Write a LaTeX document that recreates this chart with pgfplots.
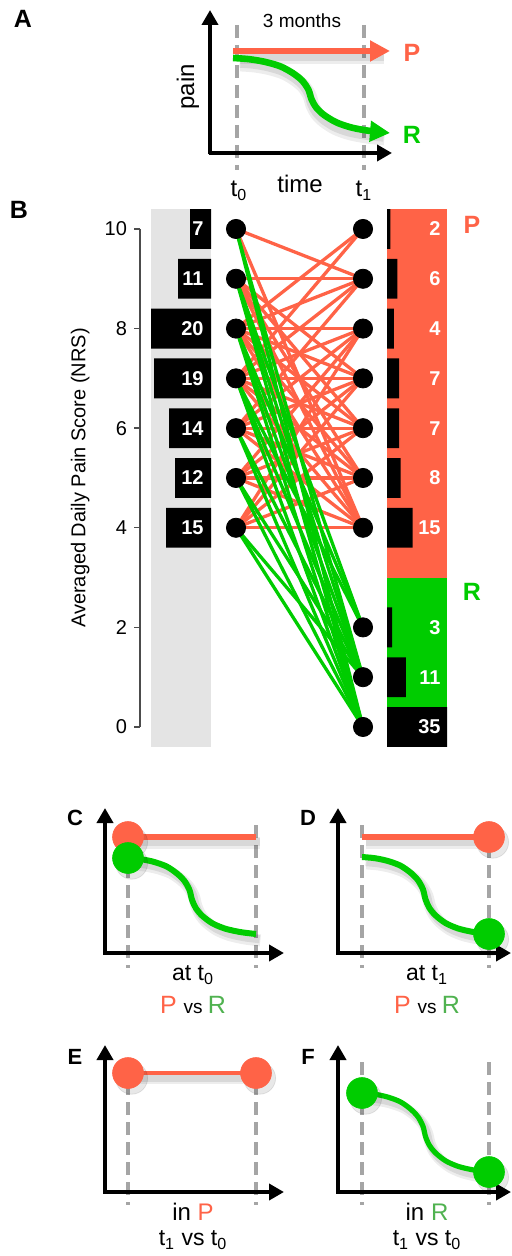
\documentclass[border=0pt]{standalone}
\usepackage{fontspec}
\setmainfont{Liberation Sans}
\usepackage{pgfplots}
\pgfplotsset{compat=1.18}
\usepackage{pgfplotstable}
\usetikzlibrary{arrows.meta}

\definecolor{tom}{RGB}{255,99,71}
\definecolor{grn}{RGB}{0,204,0}
\definecolor{grntxt}{RGB}{80,178,80}
\definecolor{dashg}{RGB}{165,165,165}
\definecolor{band}{RGB}{228,228,228}
\newcommand\fs[1]{\fontsize{#1}{#1}\selectfont}

% normalised shape of the decreasing (R) pain curve in the schematics
\pgfplotstableread{
u v
0 0
0.1 0.015
0.2 0.05
0.3 0.11
0.38 0.2
0.44 0.3
0.48 0.42
0.5 0.55
0.53 0.66
0.58 0.76
0.66 0.86
0.76 0.93
0.88 0.975
1 1
}\curve

% patients per pain score at t0
\pgfplotstableread{
y n
10 7
9 11
8 20
7 19
6 14
5 12
4 15
}\tzero

% patients per pain score at t1
\pgfplotstableread{
y n
10 2
9 6
8 4
7 7
6 7
5 8
4 15
2 3
1 11
0 35
}\tone

\pgfplotsset{
  ov/.style={at={(0pt,0pt)},anchor=south west,scale only axis,width=255.5pt,height=628pt,
    xmin=0,xmax=511,ymin=0,ymax=1256,y dir=reverse,hide axis,clip=false},
  dsh/.style={dashg,line width=2pt,dash pattern=on 6.5pt off 3.5pt},
  ax/.style={black,line width=2.4pt,-{Triangle[length=7.5pt,width=8pt]}},
  shd/.style={black,opacity=0.09,xshift=1.8pt,yshift=-2.6pt},
  shdb/.style={black,opacity=0.07,xshift=2.2pt,yshift=-3.2pt},
}

\begin{document}
\begin{tikzpicture}
\useasboundingbox (0,0) rectangle (255.5pt,628pt);

\begin{axis}[ov]
% ---------------- panel A
\addplot[dsh] coordinates {(237,25) (237,170)};
\addplot[dsh] coordinates {(364,25) (364,170)};
\addplot[shdb,line width=7pt] coordinates {(236,51) (380,51)};
\addplot[shd,line width=4.5pt] coordinates {(236,51) (380,51)};
\addplot[shdb,line width=7pt,smooth] table[x expr=236+144*\thisrow{u},y expr=58+74*\thisrow{v}]{\curve};
\addplot[shd,line width=4.5pt,smooth] table[x expr=236+144*\thisrow{u},y expr=58+74*\thisrow{v}]{\curve};
\addplot[tom,line width=3.3pt,-{Triangle[length=10pt,width=10pt]}] coordinates {(233,51) (390,51)};
\addplot[grn,line width=3.3pt,smooth,-{Triangle[length=10pt,width=10pt]}] table[x expr=233+157*\thisrow{u},y expr=58+75*\thisrow{v}]{\curve};
\addplot[ax] coordinates {(210,154.5) (210,10)};
\addplot[ax] coordinates {(208.8,153) (392,153)};
\node[font=\bfseries\fs{12.5}] at (axis cs:23,19) {A};
\node[font=\fs{9.5}] at (axis cs:302,21) {3 months};
\node[font=\fs{12},rotate=90] at (axis cs:188,87) {pain};
\node[font=\fs{12}] at (axis cs:300,184) {time};
\node[font=\bfseries\fs{12.5},text=tom] at (axis cs:412,53) {P};
\node[font=\bfseries\fs{12.5},text=grn] at (axis cs:412,135) {R};
\node[font=\fs{12}] at (axis cs:239,191) {t\textsubscript{0}};
\node[font=\fs{12}] at (axis cs:364,191) {t\textsubscript{1}};
\node[font=\bfseries\fs{12.5}] at (axis cs:19,210) {B};
\node[font=\bfseries\fs{12.5},text=tom] at (axis cs:472,225) {P};
\node[font=\bfseries\fs{12.5},text=grn] at (axis cs:472,592) {R};

% ---------------- panel C
\addplot[dsh] coordinates {(128,825) (128,968)};
\addplot[dsh] coordinates {(256,825) (256,968)};
\addplot[shdb,line width=6pt] coordinates {(128,837) (256,837)};
\addplot[shd,line width=4pt] coordinates {(128,837) (256,837)};
\addplot[shdb,line width=6pt,smooth] table[x expr=128+128*\thisrow{u},y expr=858+76*\thisrow{v}]{\curve};
\addplot[shd,line width=4pt,smooth] table[x expr=128+128*\thisrow{u},y expr=858+76*\thisrow{v}]{\curve};
\addplot[shd,only marks,mark=*,mark size=8pt] coordinates {(128,837) (128,858)};
\addplot[tom,line width=3pt] coordinates {(128,837) (256,837)};
\addplot[grn,line width=3pt,smooth] table[x expr=128+128*\thisrow{u},y expr=858+76*\thisrow{v}]{\curve};
\addplot[only marks,mark=*,mark size=7.7pt,tom] coordinates {(128,837)};
\addplot[only marks,mark=*,mark size=7.7pt,grn] coordinates {(128,858)};
\addplot[ax] coordinates {(105,954.5) (105,808)};
\addplot[ax] coordinates {(103.8,953) (284,953)};
\node[font=\bfseries\fs{11}] at (axis cs:75,818) {C};
\node[font=\fs{11.5}] at (axis cs:193,975) {at t\textsubscript{0}};
\node at (axis cs:193,1005) {\fs{12.5}\textcolor{tom}{P} \fs{9.5}vs \fs{12.5}\textcolor{grntxt}{R}};

% ---------------- panel D
\addplot[dsh] coordinates {(362,825) (362,968)};
\addplot[dsh] coordinates {(489,825) (489,968)};
\addplot[shdb,line width=6pt] coordinates {(362,837) (489,837)};
\addplot[shd,line width=4pt] coordinates {(362,837) (489,837)};
\addplot[shdb,line width=6pt,smooth] table[x expr=362+127*\thisrow{u},y expr=857+77*\thisrow{v}]{\curve};
\addplot[shd,line width=4pt,smooth] table[x expr=362+127*\thisrow{u},y expr=857+77*\thisrow{v}]{\curve};
\addplot[shd,only marks,mark=*,mark size=8pt] coordinates {(489,837) (489,934)};
\addplot[tom,line width=3pt] coordinates {(362,837) (489,837)};
\addplot[grn,line width=3pt,smooth] table[x expr=362+127*\thisrow{u},y expr=857+77*\thisrow{v}]{\curve};
\addplot[only marks,mark=*,mark size=7.7pt,tom] coordinates {(489,837)};
\addplot[only marks,mark=*,mark size=7.7pt,grn] coordinates {(489,934)};
\addplot[ax] coordinates {(338,954.5) (338,808)};
\addplot[ax] coordinates {(336.8,953) (511,953)};
\node[font=\bfseries\fs{11}] at (axis cs:308,818) {D};
\node[font=\fs{11.5}] at (axis cs:427,975) {at t\textsubscript{1}};
\node at (axis cs:427,1005) {\fs{12.5}\textcolor{tom}{P} \fs{9.5}vs \fs{12.5}\textcolor{grntxt}{R}};

% ---------------- panel E
\addplot[dsh] coordinates {(128,1062) (128,1205)};
\addplot[dsh] coordinates {(256,1062) (256,1205)};
\addplot[shdb,line width=5pt] coordinates {(128,1073) (256,1073)};
\addplot[shd,line width=3.5pt] coordinates {(128,1073) (256,1073)};
\addplot[shd,only marks,mark=*,mark size=8pt] coordinates {(128,1073) (256,1073)};
\addplot[tom,line width=2pt] coordinates {(128,1073) (256,1073)};
\addplot[only marks,mark=*,mark size=7.7pt,tom] coordinates {(128,1073) (256,1073)};
\addplot[ax] coordinates {(105,1193.5) (105,1045)};
\addplot[ax] coordinates {(103.8,1192) (284,1192)};
\node[font=\bfseries\fs{11}] at (axis cs:75,1057) {E};
\node[font=\fs{12}] at (axis cs:193,1212) {in \textcolor{tom}{P}};
\node[font=\fs{11.5}] at (axis cs:193,1240) {t\textsubscript{1} vs t\textsubscript{0}};

% ---------------- panel F
\addplot[dsh] coordinates {(362,1062) (362,1205)};
\addplot[dsh] coordinates {(489,1062) (489,1205)};
\addplot[shdb,line width=5.5pt,smooth] table[x expr=362+127*\thisrow{u},y expr=1093+79*\thisrow{v}]{\curve};
\addplot[shd,line width=3.8pt,smooth] table[x expr=362+127*\thisrow{u},y expr=1093+79*\thisrow{v}]{\curve};
\addplot[shd,only marks,mark=*,mark size=8pt] coordinates {(362,1093) (489,1172)};
\addplot[grn,line width=2.6pt,smooth] table[x expr=362+127*\thisrow{u},y expr=1093+79*\thisrow{v}]{\curve};
\addplot[only marks,mark=*,mark size=7.7pt,grn] coordinates {(362,1093) (489,1172)};
\addplot[ax] coordinates {(338,1193.5) (338,1045)};
\addplot[ax] coordinates {(336.8,1192) (511,1192)};
\node[font=\bfseries\fs{11}] at (axis cs:308,1057) {F};
\node[font=\fs{12}] at (axis cs:427,1212) {in \textcolor{grntxt}{R}};
\node[font=\fs{11.5}] at (axis cs:427,1240) {t\textsubscript{1} vs t\textsubscript{0}};
\end{axis}

% ---------------- panel B: left bars (t0 counts)
\begin{axis}[at={(75.5pt,264.5pt)},anchor=south west,scale only axis,width=30pt,height=249pt,
  xmin=0,xmax=20,x dir=reverse,ymin=0,ymax=10,hide axis,clip=false]
\addplot[fill=band,draw=none] coordinates {(0,-0.4) (20,-0.4) (20,10.4) (0,10.4)} -- cycle;
\addplot[xbar,bar width=0.8,bar shift=0pt,fill=black,draw=none] table[x=n,y=y]{\tzero};
\foreach \yy/\nn in {10/7,9/11,8/20,7/19,6/14,5/12,4/15}{
  \edef\tmp{\noexpand\node[anchor=east,inner sep=0pt,xshift=-3.5pt,text=white,font=\noexpand\bfseries\noexpand\fs{10}] at (axis cs:0,\yy) {\nn};}
  \tmp
}
\end{axis}

% ---------------- panel B: right bars (t1 counts)
\begin{axis}[at={(193.5pt,264.5pt)},anchor=south west,scale only axis,width=30pt,height=249pt,
  xmin=0,xmax=35,ymin=0,ymax=10,hide axis,clip=false]
\addplot[fill=tom,draw=none] coordinates {(0,3) (35,3) (35,10.4) (0,10.4)} -- cycle;
\addplot[fill=grn,draw=none] coordinates {(0,0.4) (35,0.4) (35,3) (0,3)} -- cycle;
\addplot[xbar,bar width=0.8,bar shift=0pt,fill=black,draw=none] table[x=n,y=y]{\tone};
\foreach \yy/\nn in {10/2,9/6,8/4,7/7,6/7,5/8,4/15,2/3,1/11,0/35}{
  \edef\tmp{\noexpand\node[anchor=east,inner sep=0pt,xshift=-3pt,text=white,font=\noexpand\bfseries\noexpand\fs{10}] at (axis cs:35,\yy) {\nn};}
  \tmp
}
\end{axis}

% ---------------- panel B: main axis with transitions
\begin{axis}[at={(70pt,264.5pt)},anchor=south west,scale only axis,width=170pt,height=249pt,
  xmin=140,xmax=480,ymin=0,ymax=10,clip=false,
  axis x line=none,axis y line*=left,
  ytick={0,2,...,10},tick align=outside,major tick length=3pt,
  y axis line style={black!70,line width=0.7pt},ytick style={black!70,line width=0.7pt},
  /pgf/number format/assume math mode=true,
  yticklabel style={font=\fs{10}},
  ylabel={Averaged Daily Pain Score (NRS)},
  ylabel style={font=\fs{10},at={(axis description cs:-0.176,0.5)},anchor=center}]
\addplot[only marks,mark=*,mark size=4.8pt,black] coordinates {
  (236,4) (236,5) (236,6) (236,7) (236,8) (236,9) (236,10)
  (363,0) (363,1) (363,2) (363,4) (363,5) (363,6) (363,7) (363,8) (363,9) (363,10)};
\foreach \a/\b in {10/9,10/4,9/9,9/7,9/6,9/5,9/4,8/10,8/9,8/8,8/7,8/6,8/5,8/4,
  7/10,7/9,7/8,7/7,7/6,7/5,7/4,6/9,6/8,6/7,6/6,6/5,6/4,5/8,5/7,5/6,5/5,5/4,
  4/8,4/7,4/6,4/5,4/4}{
  \edef\tmp{\noexpand\addplot[tom,line width=1.65pt] coordinates {(236,\a) (363,\b)};}
  \tmp
}
\foreach \a/\b in {10/0,10/1,9/0,9/1,9/2,8/0,8/1,8/2,7/0,7/1,7/2,6/0,6/1,5/0,5/1,4/0,4/1}{
  \edef\tmp{\noexpand\addplot[grn,line width=1.65pt] coordinates {(236,\a) (363,\b)};}
  \tmp
}
\end{axis}
\end{tikzpicture}
\end{document}
